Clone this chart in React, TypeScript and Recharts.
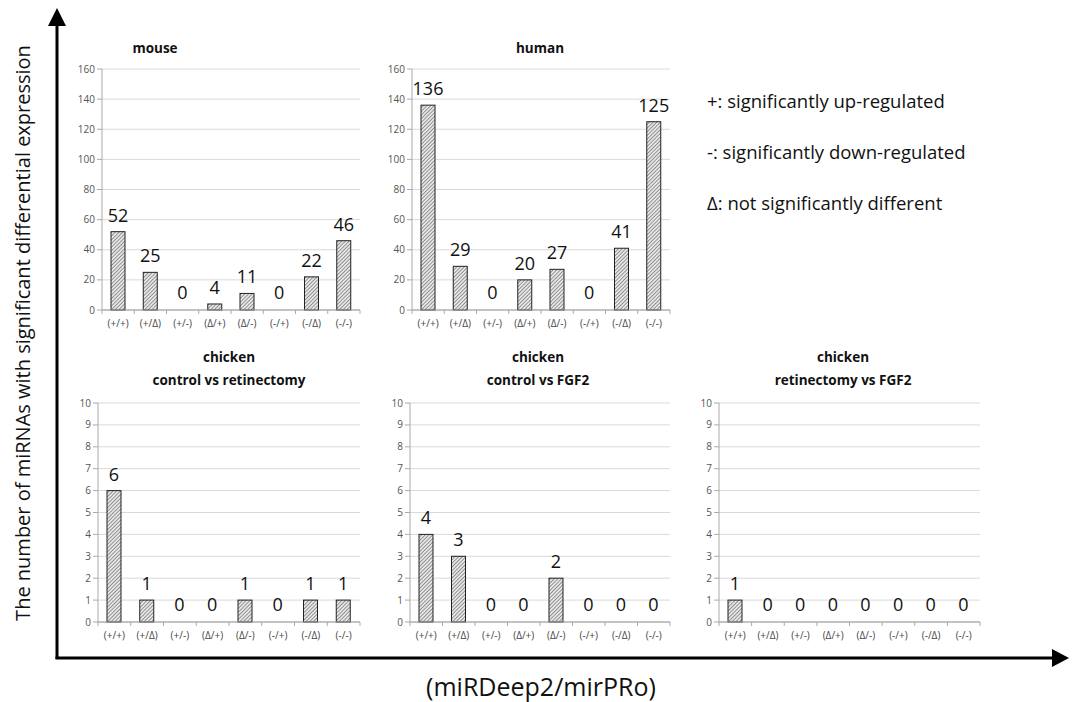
import React from 'react';
import { Bar, BarChart, CartesianGrid, LabelList, XAxis, YAxis } from 'recharts';

const categories = ['(+/+)', '(+/Δ)', '(+/-)', '(Δ/+)', '(Δ/-)', '(-/+)', '(-/Δ)', '(-/-)'];

const mouseValues = [52, 25, 0, 4, 11, 0, 22, 46];
const humanValues = [136, 29, 0, 20, 27, 0, 41, 125];
const chickenCtrlRetValues = [6, 1, 0, 0, 1, 0, 1, 1];
const chickenCtrlFgfValues = [4, 3, 0, 0, 2, 0, 0, 0];
const chickenRetFgfValues = [1, 0, 0, 0, 0, 0, 0, 0];

const bigTicks = [0, 20, 40, 60, 80, 100, 120, 140, 160];
const smallTicks = [0, 1, 2, 3, 4, 5, 6, 7, 8, 9, 10];

const legendLines = [
  '+: significantly up-regulated',
  '-: significantly down-regulated',
  'Δ: not significantly different',
];

const yTitle = 'The number of miRNAs with significant differential expression';
const xTitle = '(miRDeep2/mirPRo)';

const FONT = '"Open Sans", "Noto Sans", sans-serif';
const Y_AXIS_W = 40;
const TOP_PAD = 12;
const X_AXIS_H = 30;

function CatTick(props: any) {
  const { x, y, payload, index, bw, last } = props;
  const axisY = y - 7;
  return (
    <g>
      <line x1={x - bw / 2} y1={axisY} x2={x - bw / 2} y2={axisY + 4} stroke="#aaa" />
      {index === last && (
        <line x1={x + bw / 2} y1={axisY} x2={x + bw / 2} y2={axisY + 4} stroke="#aaa" />
      )}
      <text x={x} y={axisY + 10} dy="0.71em" textAnchor="middle" fontSize={10} fill="#444" fontFamily={FONT}>
        {payload.value}
      </text>
    </g>
  );
}

// zero values get a 1px placeholder (minPointSize) so their label is still drawn; the bar itself is skipped
function HatchBar(props: any) {
  const { x, y, width, height, value, fill } = props;
  const v = Array.isArray(value) ? value[1] - value[0] : value;
  if (!v) return null;
  return <rect x={x} y={y} width={width} height={height} fill={fill} stroke="#222" strokeWidth={1} />;
}

type PanelProps = {
  id: string;
  values: number[];
  x: number;
  y: number;
  w: number;
  h: number;
  max: number;
  ticks: number[];
  title: string[];
  titleX: number;
  titleY: number;
};

function Panel({ id, values, x, y, w, h, max, ticks, title, titleX, titleY }: PanelProps) {
  const data = categories.map((c, i) => ({ cat: c, v: values[i] }));
  const bw = w / categories.length;
  return (
    <>
      {title.map((t, i) => (
        <div
          key={t}
          style={{
            position: 'absolute',
            left: titleX - 150,
            width: 300,
            top: titleY + i * 23 - 11,
            lineHeight: '22px',
            textAlign: 'center',
            fontWeight: 'bold',
            fontSize: 13.5,
            color: '#111',
          }}
        >
          {t}
        </div>
      ))}
      <div style={{ position: 'absolute', left: x - Y_AXIS_W, top: y - TOP_PAD }}>
        <BarChart
          width={w + Y_AXIS_W + 6}
          height={h + TOP_PAD + X_AXIS_H}
          data={data}
          margin={{ top: TOP_PAD, right: 6, left: 0, bottom: 0 }}
        >
          <defs>
            <pattern
              id={`hatch-${id}`}
              patternUnits="userSpaceOnUse"
              width="2.6"
              height="2.6"
              patternTransform="rotate(45)"
            >
              <rect width="2.6" height="2.6" fill="#e6e6e6" />
              <line x1="0" y1="0" x2="0" y2="2.6" stroke="#555" strokeWidth="1.1" />
            </pattern>
          </defs>
          <CartesianGrid vertical={false} stroke="#d9d9d9" />
          <XAxis
            dataKey="cat"
            height={X_AXIS_H}
            axisLine={{ stroke: '#999' }}
            tickLine={false}
            tickSize={5}
            tickMargin={2}
            interval={0}
            tick={<CatTick bw={bw} last={categories.length - 1} />}
          />
          <YAxis
            width={Y_AXIS_W}
            domain={[0, max]}
            ticks={ticks}
            interval={0}
            axisLine={{ stroke: '#aaa' }}
            tickLine={{ stroke: '#aaa' }}
            tickSize={5}
            tickMargin={2}
            tick={{ fontSize: 10, fill: '#555', fontFamily: FONT }}
          />
          <Bar
            dataKey="v"
            barSize={14}
            minPointSize={1}
            fill={`url(#hatch-${id})`}
            shape={<HatchBar />}
            isAnimationActive={false}
          >
            <LabelList dataKey="v" position="top" offset={10} fontSize={18} fill="#111" fontFamily={FONT} />
          </Bar>
        </BarChart>
      </div>
    </>
  );
}

export default function App() {
  return (
    <div
      style={{
        position: 'absolute',
        left: 0,
        top: 0,
        width: 1073,
        height: 702,
        background: '#fff',
        fontFamily: FONT,
        overflow: 'hidden',
      }}
    >
      <Panel id="m" values={mouseValues} x={102} y={69} w={258} h={241} max={160} ticks={bigTicks} title={['mouse']} titleX={155} titleY={48} />
      <Panel id="h" values={humanValues} x={412} y={69} w={258} h={241} max={160} ticks={bigTicks} title={['human']} titleX={540} titleY={48} />
      <Panel id="c1" values={chickenCtrlRetValues} x={98} y={403} w={262} h={219} max={10} ticks={smallTicks} title={['chicken', 'control vs retinectomy']} titleX={229} titleY={357} />
      <Panel id="c2" values={chickenCtrlFgfValues} x={410} y={403} w={260} h={219} max={10} ticks={smallTicks} title={['chicken', 'control vs FGF2']} titleX={538} titleY={357} />
      <Panel id="c3" values={chickenRetFgfValues} x={719} y={403} w={261} h={219} max={10} ticks={smallTicks} title={['chicken', 'retinectomy vs FGF2']} titleX={843} titleY={357} />

      {legendLines.map((t, i) => (
        <div
          key={t}
          style={{
            position: 'absolute',
            left: 707,
            top: [101, 152, 203][i] - 13,
            lineHeight: '26px',
            fontSize: 18.5,
            color: '#111',
            whiteSpace: 'nowrap',
          }}
        >
          {t}
        </div>
      ))}

      <svg width={1073} height={702} style={{ position: 'absolute', left: 0, top: 0, pointerEvents: 'none' }}>
        <line x1={57} y1={659} x2={57} y2={22} stroke="#000" strokeWidth={3} />
        <polygon points="57,8 48,26 66,26" fill="#000" />
        <line x1={55.5} y1={658} x2={1056} y2={658} stroke="#000" strokeWidth={3} />
        <polygon points="1069,658 1052,649 1052,667" fill="#000" />
        <text
          x={22}
          y={333}
          transform="rotate(-90 22 333)"
          textAnchor="middle"
          dominantBaseline="central"
          fontSize={20}
          fill="#111"
          fontFamily={FONT}
        >
          {yTitle}
        </text>
        <text x={541} y={686} textAnchor="middle" dominantBaseline="central" fontSize={25} fill="#111" fontFamily={FONT}>
          {xTitle}
        </text>
      </svg>
    </div>
  );
}
